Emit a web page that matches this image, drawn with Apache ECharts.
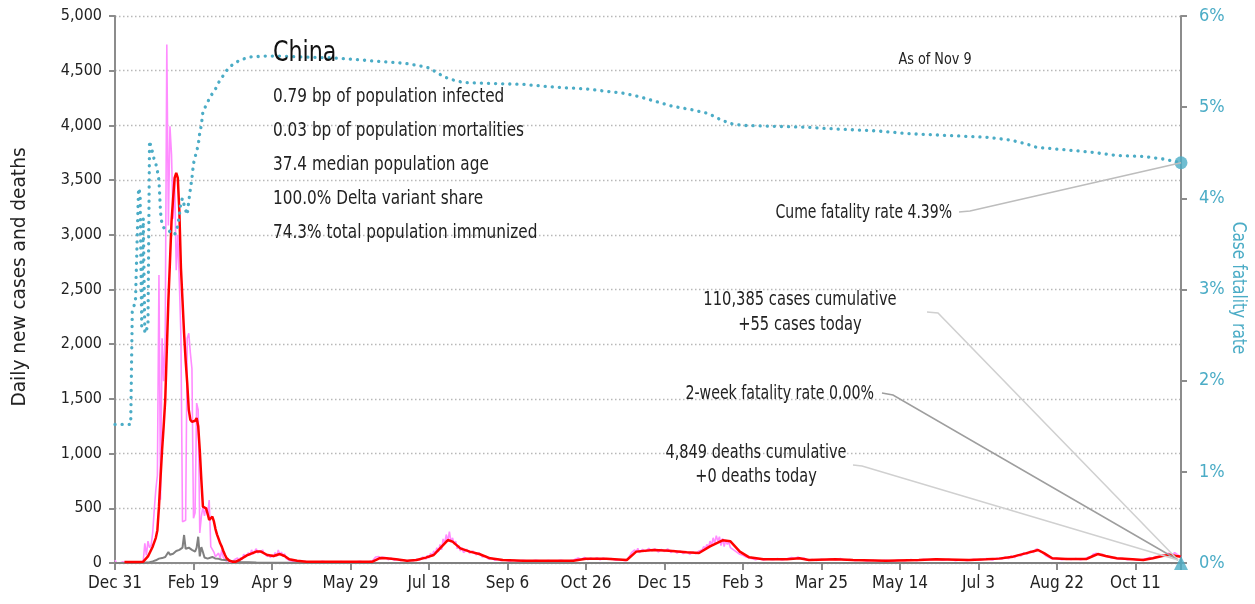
<!DOCTYPE html>
<html><head><meta charset="utf-8">
<script src="https://cdn.jsdelivr.net/npm/echarts@6/dist/echarts.min.js"></script>
<style>html,body{margin:0;padding:0;background:#fff;}#c{width:1255px;height:604px;}</style>
</head><body><div id="c"></div>
<script>
// x values are days since Dec 31, 2019
const xTickLabels = ['Dec 31','Feb 19','Apr 9','May 29','Jul 18','Sep 6','Oct 26','Dec 15','Feb 3','Mar 25','May 14','Jul 3','Aug 22','Oct 11'];
const lastDay = 679; // Nov 9, 2021

const casesRaw = [[0,27],[1,0],[2,15],[3,0],[5,12],[6,0],[8,0],[10,5],[12,0],[14,8],[16,0],[17,5],[18,20],[19,180],[20,70],[21,200],[22,140],[23,160],[24,277],[25,486],[26,669],[27,802],[28,2632],[29,578],[30,2054],[31,1661],[32,2089],[33,4739],[34,3086],[35,3991],[36,3733],[37,3147],[38,3523],[39,2676],[40,3001],[41,2555],[42,2071],[43,377],[44,377],[45,390],[46,2055],[47,2100],[48,1921],[49,1777],[50,408],[51,458],[52,1462],[53,1400],[54,274],[55,423],[56,515],[57,430],[58,510],[59,440],[60,576],[61,149],[62,137],[63,100],[64,58],[65,45],
[66,90],[67,40],[68,120],[69,50],[70,35],[71,15],[72,40],[73,10],[74,20],[75,8],[76,30],[77,15],[78,45],[79,25],[80,50],[81,30],[82,80],[83,55],[84,40],[85,95],[86,70],[87,120],[88,80],[89,110],[90,130],[91,90],[92,115],[93,95],[94,120],[95,85],[96,100],[97,60],[98,80],[99,50],[100,75],[101,55],[102,95],[103,60],[104,120],[105,70],[106,100],[107,60],[108,85],[109,40],[110,50],[111,25],[112,35],[113,15],[114,25],[115,10],[117,20],[119,8],[121,15],[123,5],[126,12],[129,5],[132,15],[135,8],[138,12],[141,5],[144,14],[147,6],[150,12],[153,8],[156,15],[159,6],[162,14],[164,20],[166,55],[167,40],[168,60],[169,35],[170,55],[171,40],[172,50],[174,30],[176,45],[178,25],[180,35],[182,20],[184,30],[186,15],[188,25],[190,20],[192,35],[194,25],[196,55],[198,35],[199,70],[200,45],[201,90],[202,60],[203,110],[204,80],[205,140],[206,100],[207,170],[208,120],[209,220],[210,180],[211,260],[212,200],[213,286],[214,190],[215,230],[216,170],[217,200],[218,130],[219,160],[220,110],[221,140],[222,95],[224,125],[226,90],[228,110],[230,75],[232,95],[234,55],[236,65],[238,35],[240,45],[242,25],[244,35],[246,20],[248,30],[251,15],[254,25],[257,15],[260,25],[264,15],[268,25],[272,15],[276,22],[280,16],[284,25],[288,15],[292,28],[295,45],[297,35],[299,50],[301,30],[303,45],[305,35],[307,48],[309,30],[311,45],[313,35],[316,40],[319,25],[322,30],[325,20],[327,45],[328,70],[329,95],[330,80],[331,120],[332,100],[333,135],[334,95],[336,125],[338,105],[340,135],[342,110],[344,130],[346,100],[348,125],[350,105],[352,130],[354,95],[356,115],[358,90],[360,110],[362,85],[364,105],[366,80],[368,100],[370,85],[372,110],[374,120],[375,150],[376,130],[377,170],[378,140],[379,200],[380,160],[381,230],[382,180],[383,250],[384,200],[385,240],[386,160],[387,225],[388,150],[389,210],[390,170],[391,190],[392,140],[394,120],[396,100],[398,80],[400,70],[402,55],[404,45],[406,38],[408,30],[410,38],[413,28],[416,36],[419,30],[422,40],[425,28],[428,38],[431,50],[433,40],[435,55],[437,38],[439,45],[441,25],[444,32],[447,22],[450,35],[453,28],[456,38],[459,30],[462,40],[465,25],[468,32],[471,22],[475,28],[479,18],[483,25],[487,18],[491,24],[495,15],[499,28],[503,20],[507,32],[511,22],[515,35],[519,28],[523,38],[527,25],[531,35],[535,22],[539,30],[543,22],[547,35],[551,25],[555,40],[559,28],[562,45],[565,35],[567,55],[569,40],[571,65],[573,50],[575,75],[577,65],[579,95],[581,80],[583,110],[585,95],[587,130],[589,105],[591,95],[593,65],[595,50],[597,38],[600,42],[603,30],[606,40],[609,32],[612,42],[615,30],[618,40],[620,55],[621,70],[622,60],[623,80],[624,65],[625,90],[627,75],[629,80],[631,60],[633,55],[635,45],[637,50],[639,35],[642,42],[645,30],[648,38],[651,25],[654,32],[657,40],[659,50],[661,40],[663,60],[665,55],[667,75],[669,60],[671,90],[673,70],[675,95],[677,75],[679,55]];

const casesAvg = [[6,10],[10,10],[15,10],[18,12],[19,27],[21,60],[22,73],[24,149],[26,230],[27,300],[28,515],[29,780],[30,1033],[31,1250],[32,1490],[33,1947],[34,2400],[35,2750],[36,3120],[37,3330],[38,3520],[39,3565],[40,3520],[41,3211],[42,2697],[43,2400],[44,2100],[45,1850],[46,1645],[47,1400],[48,1310],[49,1290],[50,1290],[51,1300],[52,1325],[53,1250],[54,1033],[55,760],[56,515],[57,505],[58,500],[59,450],[60,393],[61,400],[62,423],[63,380],[64,310],[65,260],[66,220],[67,180],[68,150],[69,110],[70,75],[71,46],[72,30],[73,20],[75,12],[77,12],[80,34],[84,70],[90,104],[93,104],[97,73],[101,64],[105,82],[108,64],[111,34],[116,21],[122,12],[164,12],[169,46],[173,43],[179,34],[186,21],[192,27],[198,49],[203,73],[207,134],[212,210],[215,195],[220,134],[226,104],[232,82],[239,43],[247,27],[260,21],[292,21],[300,39],[313,39],[326,27],[332,104],[343,119],[353,113],[364,98],[372,91],[379,152],[387,207],[392,198],[398,104],[404,52],[413,34],[428,34],[436,43],[442,27],[459,34],[470,27],[491,21],[512,27],[523,34],[544,27],[555,34],[563,40],[572,58],[580,88],[588,119],[592,88],[597,43],[606,37],[619,37],[623,64],[626,82],[631,64],[638,43],[648,34],[655,27],[661,43],[667,64],[672,76],[676,64],[679,58]];

const deathsDaily = [[0,0],[18,0],[20,5],[22,8],[24,15],[26,25],[28,40],[30,45],[32,55],[34,100],[35,75],[36,70],[37,85],[38,95],[39,110],[40,105],[41,120],[42,110],[43,140],[44,256],[45,130],[46,130],[47,140],[48,130],[49,120],[50,110],[51,105],[52,140],[53,240],[54,60],[55,145],[56,100],[57,50],[58,45],[59,40],[60,40],[62,55],[64,40],[66,38],[68,30],[70,28],[72,25],[75,15],[80,10],[85,8],[90,5],[100,3],[110,2],[130,0],[679,0]];

// case fatality rate, percent (right axis)
const cfr = [[0,1.52],[10,1.52],[11,2.75],[12,2.82],[13,2.85],[14,2.86],[15,4.11],[16,4.05],[17,2.6],[18,3.78],[19,2.52],[20,2.52],[21,2.6],[22,4.63],[23,4.56],[24,4.5],[25,4.42],[26,4.38],[27,4.3],[28,4.2],[29,3.85],[30,3.7],[31,3.68],[32,3.66],[33,3.64],[34,3.65],[35,3.64],[36,3.62],[37,3.63],[38,3.6],[39,3.62],[40,3.7],[41,3.82],[42,3.96],[43,4.0],[44,3.93],[45,3.87],[46,3.82],[47,3.97],[48,4.1],[49,4.22],[50,4.38],[51,4.45],[52,4.52],[53,4.58],[54,4.72],[55,4.8],[56,4.95],[58,5.02],[60,5.09],[62,5.15],[64,5.2],[66,5.27],[68,5.32],[70,5.38],[73,5.44],[76,5.48],[80,5.52],[86,5.55],[95,5.56],[105,5.56],[120,5.55],[140,5.54],[155,5.52],[170,5.5],[185,5.48],[195,5.45],[200,5.43],[205,5.38],[210,5.33],[215,5.3],[222,5.27],[240,5.26],[260,5.25],[280,5.22],[300,5.2],[310,5.18],[325,5.15],[335,5.11],[345,5.06],[355,5.01],[368,4.97],[378,4.93],[385,4.87],[392,4.82],[400,4.8],[420,4.79],[440,4.78],[460,4.76],[485,4.74],[505,4.71],[530,4.69],[555,4.67],[570,4.64],[580,4.6],[587,4.56],[600,4.54],[620,4.51],[638,4.47],[655,4.46],[668,4.43],[679,4.39]];
const cfrLatest = [[679, 4.39]];
const twoWeekCfr = [[679, 0]];

const countryName = 'China';
const infoLines = ['0.79 bp of population infected','0.03 bp of population mortalities','37.4 median population age','100.0% Delta variant share','74.3% total population immunized'];
const asOfText = 'As of Nov 9';
const cumeText = 'Cume fatality rate 4.39%';
const casesText = ['110,385 cases cumulative','+55 cases today'];
const twoWeekText = '2-week fatality rate 0.00%';
const deathsText = ['4,849 deaths cumulative','+0 deaths today'];

const FONT = "'Liberation Sans Narrow','Arial Narrow','DejaVu Sans Condensed',sans-serif";
const TEAL = '#4bacc6';
const AXIS = '#8c8c8c';

const chart = echarts.init(document.getElementById('c'), null, {renderer:'canvas'});

const option = {
  animation: false,
  backgroundColor: '#fff',
  grid: {left:115, right:74, top:16, bottom:41},
  xAxis: {
    type:'value', min:0, max:lastDay, interval:50,
    axisLine:{show:true, onZero:false, lineStyle:{color:AXIS, width:2}},
    axisTick:{show:true, length:7, lineStyle:{color:AXIS, width:2}},
    axisLabel:{fontFamily:FONT, fontSize:17, color:'#222', margin:12,
      formatter: v => (v % 50 === 0 && xTickLabels[v/50]) ? xTickLabels[v/50] : ''},
    splitLine:{show:false}
  },
  yAxis: [{
    type:'value', min:0, max:5000, interval:500,
    axisLine:{show:true, lineStyle:{color:AXIS, width:2}},
    axisTick:{show:true, length:6, lineStyle:{color:AXIS, width:2}},
    axisLabel:{fontFamily:FONT, fontSize:16, color:'#222', margin:13,
      formatter: v => v.toLocaleString('en-US')},
    splitLine:{show:true, lineStyle:{color:'#b8b8b8', width:1.4, type:[1.5,2.5]}}
  },{
    type:'value', min:0, max:6, interval:1, position:'right',
    axisLine:{show:true, lineStyle:{color:AXIS, width:2}},
    axisTick:{show:true, length:6, lineStyle:{color:AXIS, width:2}},
    axisLabel:{fontFamily:FONT, fontSize:18, color:TEAL, margin:18, formatter:'{value}%'},
    splitLine:{show:false}
  }],
  series: [
    {name:'New cases', type:'line', data:casesRaw, symbol:'none', z:2,
     lineStyle:{color:'#ff8cff', width:1.6}},
    {name:'New deaths', type:'line', data:deathsDaily, symbol:'none', z:3,
     lineStyle:{color:'#808080', width:2}},
    {name:'7-day average', type:'line', data:casesAvg, symbol:'none', z:4,
     lineStyle:{color:'#ff0000', width:2.5}},
    {name:'Case fatality rate', type:'line', yAxisIndex:1, data:cfr, symbol:'none', z:5,
     lineStyle:{color:TEAL, width:3.3, type:[0.1,7], cap:'round'}},
    {name:'Cume CFR', type:'scatter', yAxisIndex:1, data:cfrLatest, symbol:'circle', symbolSize:13, z:6,
     itemStyle:{color:TEAL}},
    {name:'2-week CFR', type:'scatter', yAxisIndex:1, data:twoWeekCfr, symbol:'triangle', symbolSize:14, z:6,
     itemStyle:{color:TEAL}}
  ]
};
chart.setOption(option);

function T(x, y, text, size, color, align, sx, rot) {
  return {type:'text', x:x, y:y, rotation: rot || 0, scaleX: sx || 1, z:20,
    style:{text:text, fill:color || '#222', fontSize:size, fontFamily:FONT,
      align: align || 'left', verticalAlign:'middle'}};
}
function leader(pts, color) {
  return {type:'polyline', z:8, shape:{points:pts}, style:{stroke:color, lineWidth:1.5, fill:null}};
}
const endCfr = chart.convertToPixel({xAxisIndex:0, yAxisIndex:1}, cfrLatest[0]);
const endZero = chart.convertToPixel({xAxisIndex:0, yAxisIndex:1}, twoWeekCfr[0]);
const ez = [endZero[0]-3, endZero[1]-3];

const g = [
  T(273, 54, countryName, 28, '#111', 'left', 0.88),
  T(935, 60, asOfText, 16, '#222', 'center', 0.89),
  T(20, 277, 'Daily new cases and deaths', 20, '#222', 'center', 1.03, Math.PI/2),
  T(1238, 288, 'Case fatality rate', 19, TEAL, 'center', 0.9, -Math.PI/2),
  T(952, 213, cumeText, 19, '#222', 'right', 0.82),
  T(800, 300, casesText[0], 19, '#222', 'center', 0.86),
  T(800, 325, casesText[1], 19, '#222', 'center', 0.86),
  T(874, 394, twoWeekText, 19, '#222', 'right', 0.83),
  T(756, 453, deathsText[0], 19, '#222', 'center', 0.85),
  T(756, 477, deathsText[1], 19, '#222', 'center', 0.85),
  leader([[959,212],[970,211],endCfr], '#bdbdbd'),
  leader([[927,312],[938,313],ez], '#d0d0d0'),
  leader([[882,393],[893,395],ez], '#9e9e9e'),
  leader([[853,465],[862,466],ez], '#d0d0d0')
];
infoLines.forEach((s, i) => g.push(T(273, 97 + i*34, s, 20, '#222', 'left', 0.85)));
chart.setOption({graphic: g});
</script>
</body></html>
